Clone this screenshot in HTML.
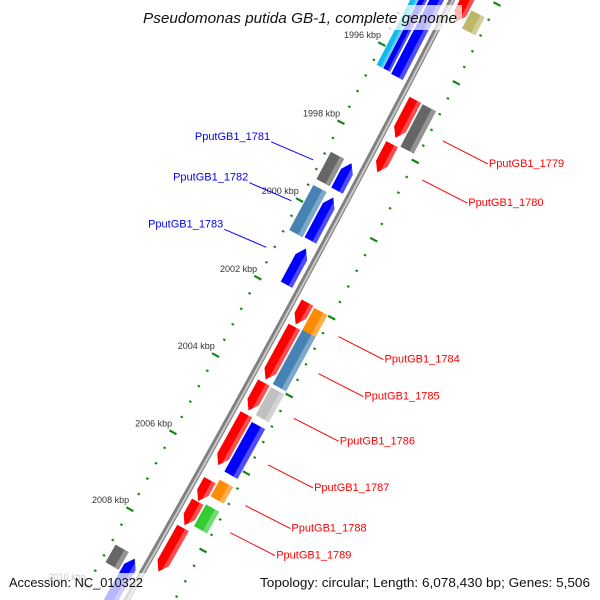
<!DOCTYPE html>
<html><head><meta charset="utf-8"><style>
html,body{margin:0;padding:0;background:#fff;width:600px;height:600px;overflow:hidden}
svg{display:block}
text{font-family:"Liberation Sans",sans-serif}
</style></head><body>
<svg id="map" width="600" height="600" viewBox="0 0 600 600" xmlns="http://www.w3.org/2000/svg" overflow="hidden">
<rect x="0" y="0" width="600" height="600" fill="#fff"/>
<g id="ticks"></g>
<g id="backbone"></g>
<g id="features"></g>
<g id="labels"></g>
<rect x="140" y="5" width="322" height="25" fill="#fff" opacity="0.72"/>
<text x="143" y="23" font-size="15" font-style="italic" fill="#111" textLength="314" lengthAdjust="spacingAndGlyphs">Pseudomonas putida GB-1, complete genome</text>
<rect x="3" y="573" width="150" height="27" fill="#fff" opacity="0.72"/>
<text x="9" y="587" font-size="13" fill="#111" textLength="134" lengthAdjust="spacingAndGlyphs">Accession: NC_010322</text>
<rect x="255" y="573" width="345" height="27" fill="#fff" opacity="0.72"/>
<text x="260" y="587" font-size="13" fill="#111" textLength="330" lengthAdjust="spacingAndGlyphs">Topology: circular; Length: 6,078,430 bp; Genes: 5,506</text>
</svg>
<script>
// ---- data ----
const featStart = [1994.0,1994.0,1994.0,1994.0,1994.39,1996.77,1996.78,1997.90,1998.70,1998.71,1999.55,1999.59,2000.90,2001.96,2001.99,2002.58,2002.56,2004.02,2004.03,2004.84,2004.93,2006.54,2006.42,2007.10,2007.06,2007.78,2008.86,2008.92];
const featEnd   = [1996.50,1996.47,1996.47,1994.79,1994.85,1997.74,1997.86,1998.62,1999.40,1999.41,2000.71,2000.69,2001.83,2002.52,2002.61,2003.94,2003.95,2004.74,2004.75,2006.15,2006.21,2007.08,2006.85,2007.71,2007.62,2008.91,2009.32,2010.5];
const featRing  = ['L1','L2i','L2o','R1','R2','R1','R2','R1','L2','L1','L2','L1','L1','R1','R2','R1','R2','R1','R2','R1','R2','R1','R2','R1','R2','R1','L2','L1'];
const featColor = ['#0000ff','#0000ee','#11bbee','#ff0000','#bdb76b','#ff0000','#666666','#ff0000','#666666','#0000ff','#4682b4','#0000ff','#0000ff','#ff0000','#ff8c00','#ff0000','#4682b4','#ff0000','#c0c0c0','#ff0000','#0000ff','#ff0000','#ff8c00','#ff0000','#33cc33','#ff0000','#666666','#0000ff'];
const majorTicks = [1994,1996,1998,2000,2002,2004,2006,2008,2010];
const tickLabels = ['1994 kbp','1996 kbp','1998 kbp','2000 kbp','2002 kbp','2004 kbp','2006 kbp','2008 kbp','2010 kbp'];
const labelNames = ['PputGB1_1779','PputGB1_1780','PputGB1_1781','PputGB1_1782','PputGB1_1783','PputGB1_1784','PputGB1_1785','PputGB1_1786','PputGB1_1787','PputGB1_1788','PputGB1_1789'];
const labelKbp   = [1997.3,1998.3,1999.05,2000.1,2001.3,2002.3,2003.25,2004.4,2005.6,2006.65,2007.35];
const labelSide  = ['R','R','L','L','L','R','R','R','R','R','R'];

// ---- geometry (axis functions) ----
const SVGNS = 'http://www.w3.org/2000/svg';
const Cx = -13434.5, Cy = -7139, R0 = 15614;
const phi0 = Math.atan2(375 - Cy, 251.8 - Cx);
const dphi = 44.2 / R0;
function P(k, r){ const a = phi0 + (k - 2004) * dphi; const rad = R0 + r; return [Cx + rad*Math.cos(a), Cy + rad*Math.sin(a)]; }
const rings = {R1:[7,20], R2:[22,37], L1:[-20,-7], L2:[-37,-22], L2o:[-37,-30], L2i:[-29.5,-22]};
function el(tag, attrs, parent){ const e = document.createElementNS(SVGNS, tag); for (const k in attrs) e.setAttribute(k, attrs[k]); parent.appendChild(e); return e; }
function ptsStr(list){ return list.map(p => { const q = P(p[0], p[1]); return q[0].toFixed(2)+','+q[1].toFixed(2); }).join(' '); }
function lighten(hex, f){ const n = parseInt(hex.slice(1),16); let r=n>>16,g=(n>>8)&255,b=n&255; r=Math.round(r+(255-r)*f); g=Math.round(g+(255-g)*f); b=Math.round(b+(255-b)*f); return 'rgb('+r+','+g+','+b+')'; }
function clipR(poly, rs){ const out=[]; for (let i=0;i<poly.length;i++){ const a=poly[i], b=poly[(i+1)%poly.length]; const ain=a[1]>=rs, bin=b[1]>=rs; if (ain) out.push(a); if (ain!==bin){ const t=(rs-a[1])/(b[1]-a[1]); out.push([a[0]+t*(b[0]-a[0]), rs]); } } return out; }

// ---- ticks ----
const tg = document.getElementById('ticks');
for (let i = 0; i <= 45; i++){
  const k = 1994 + i*0.4;
  const major = Math.abs(k/2 - Math.round(k/2)) < 1e-6;
  [-1, 1].forEach(side => {
    const r1 = major ? side*38 : side*40.5, r2 = major ? side*46 : side*43;
    const a = P(k, r1), b = P(k, r2);
    const ln = el('line', {x1:a[0],y1:a[1],x2:b[0],y2:b[1],stroke:'#118811','stroke-width':major?2.2:2}, tg);
    
    
  });
}
majorTicks.forEach((k, i) => {
  const p = P(k, -44);
  const t = el('text', {x:(p[0]+1).toFixed(1), y:(p[1]-5).toFixed(1), 'font-size':9, fill:'#333', 'text-anchor':'end'}, tg);
  
  
  t.textContent = tickLabels[i];
});

// ---- backbone ----
const bg = document.getElementById('backbone');
const bpts = []; for (let k = 1992; k <= 2012; k += 0.5) bpts.push(P(k,0).map(v=>v.toFixed(2)).join(','));
const b1 = el('polyline', {points:bpts.join(' '), fill:'none', stroke:'#808080', 'stroke-width':6}, bg);


const b2 = el('polyline', {points:bpts.join(' '), fill:'none', stroke:'#c8c8c8', 'stroke-width':2, transform:'translate(1,0)'}, bg);



// ---- features ----
const fg = document.getElementById('features');
for (let i = 0; i < featStart.length; i++){
  const s = featStart[i], e = featEnd[i], ring = featRing[i];
  const rr = rings[ring], r1 = rr[0], r2 = rr[1], rm = (r1+r2)/2;
  const head = Math.min(0.22, (e-s)*0.4);
  let poly;
  if (ring === 'R1') poly = [[s,r1],[s,r2],[e-head,r2],[e,rm],[e-head,r1]];
  else if (ring === 'L1') poly = [[s,rm],[s+head,r2],[e,r2],[e,r1],[s+head,r1]];
  else poly = [[s,r1],[s,r2],[e,r2],[e,r1]];
  const g = el('g', {}, fg);
  
  
  el('polygon', {points:ptsStr(poly), fill:featColor[i]}, g);
  const strip = clipR(poly, r1 + (r2-r1)*0.68);
  if (strip.length > 2) el('polygon', {points:ptsStr(strip), fill:lighten(featColor[i], 0.3)}, g);
}

// ---- feature labels ----
const lg = document.getElementById('labels');
labelNames.forEach((name, i) => {
  const k = labelKbp[i], right = labelSide[i] === 'R';
  const a = P(k, right ? 57 : -49);
  const off = right ? [45, 23] : [-42, -18];
  const b = [a[0] + off[0], a[1] + off[1]];
  const col = right ? '#ff0000' : '#0000ff';
  const ln = el('line', {x1:a[0].toFixed(1), y1:a[1].toFixed(1), x2:b[0].toFixed(1), y2:b[1].toFixed(1), stroke:col, 'stroke-width':1}, lg);
  
  
  const t = el('text', {x:(right ? b[0]+1 : b[0]-1).toFixed(1), y:(b[1]+(right?3:-2)).toFixed(1), 'font-size':11, fill:col, 'text-anchor':right?'start':'end'}, lg);
  
  
  t.textContent = name;
});
</script>
</body></html>
